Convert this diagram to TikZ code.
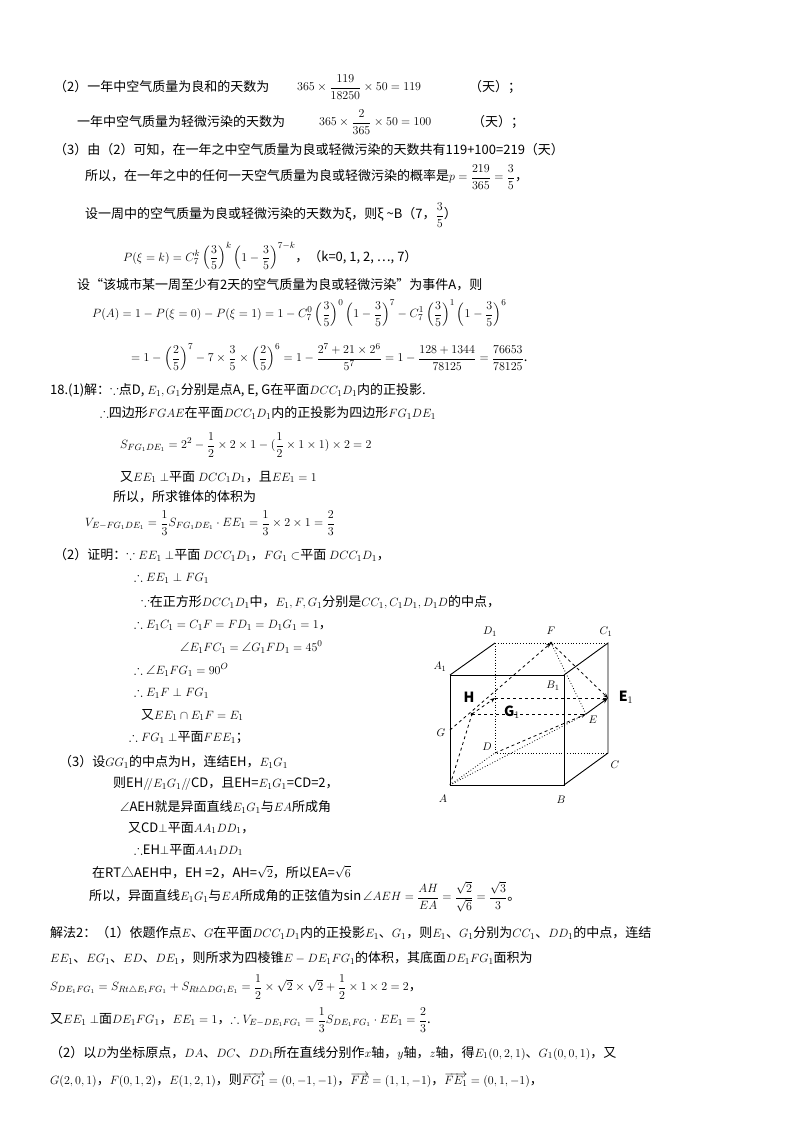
\documentclass[tikz,border=0pt]{standalone}
\usepackage{amssymb}
\usepackage{fontspec}
\setmainfont{Noto Sans CJK SC}
\usetikzlibrary{arrows.meta}
\everymath{\displaystyle}
\tikzset{t/.style={anchor=west,inner sep=0pt,font=\fontsize{13}{15}\selectfont},
 lab/.style={inner sep=0pt,font=\fontsize{11}{12}\selectfont},
 blab/.style={inner sep=0pt,font=\fontsize{14}{15}\selectfont\bfseries},
 edge/.style={line width=0.9pt},
 hid/.style={dotted,line width=0.8pt},
 dsh/.style={dashed,line width=0.8pt}}
\begin{document}
\begin{tikzpicture}[x=1pt,y=-1pt]
\useasboundingbox (0,0) rectangle (800,1132);
\fill[white] (0,0) rectangle (800,1132);
\node[t] (l1) at (54,87) {（2）一年中空气质量为良和的天数为};
\node[t] (l1m) at (297,87) {$365\times\frac{119}{18250}\times50=119$};
\node[t] (l1t) at (469,87) {（天）；};
\node[t] (l2) at (77,122) {一年中空气质量为轻微污染的天数为};
\node[t] (l2m) at (319,122) {$365\times\frac{2}{365}\times50=100$};
\node[t] (l2t) at (472,122) {（天）；};
\node[t] (l3) at (54,150) {（3）由（2）可知，在一年之中空气质量为良或轻微污染的天数共有119+100=219（天）};
\node[t] (l4) at (85,177) {所以，在一年之中的任何一天空气质量为良或轻微污染的概率是$p=\frac{219}{365}=\frac35$，};
\node[t] (l5) at (85,215) {设一周中的空气质量为良或轻微污染的天数为ξ，则ξ \textasciitilde B（7，$\frac35$）};
\node[t] (l6) at (123,256) {$P(\xi=k)=C_7^k\left(\frac35\right)^k\left(1-\frac35\right)^{7-k}$，（k=0, 1, 2, ⋯, 7）};
\node[t] (l7) at (77,285) {设“该城市某一周至少有2天的空气质量为良或轻微污染”为事件A，则};
\node[t] (l8) at (92,313) {$P(A)=1-P(\xi=0)-P(\xi=1)=1-C_7^0\left(\frac35\right)^0\left(1-\frac35\right)^7-C_7^1\left(\frac35\right)^1\left(1-\frac35\right)^6$};
\node[t] (l9) at (131,357) {$=1-\left(\frac25\right)^7-7\times\frac35\times\left(\frac25\right)^6=1-\frac{2^7+21\times2^6}{5^7}=1-\frac{128+1344}{78125}=\frac{76653}{78125}$.};
\node[t] (l10) at (50,390) {18.(1)解：$\because$点D, $E_1,G_1$分别是点A, E, G在平面$DCC_1D_1$内的正投影.};
\node[t] (l11) at (100,413) {$\therefore$四边形$FGAE$在平面$DCC_1D_1$内的正投影为四边形$FG_1DE_1$};
\node[t] (l12) at (120,445) {$S_{FG_1DE_1}=2^2-\frac12\times2\times1-(\frac12\times1\times1)\times2=2$};
\node[t] (l13) at (120,477) {又$EE_1\perp$平面 $DCC_1D_1$，且$EE_1=1$};
\node[t] (l14) at (113,497) {所以，所求锥体的体积为};
\node[t] (l15) at (85,523) {$V_{E-FG_1DE_1}=\frac13S_{FG_1DE_1}\cdot EE_1=\frac13\times2\times1=\frac23$};
\node[t] (l16) at (54,555) {（2）证明：$\because EE_1\perp$平面 $DCC_1D_1$，$FG_1\subset$平面 $DCC_1D_1$，};
\node[t] (l17) at (134,578) {$\therefore EE_1\perp FG_1$};
\node[t] (l18) at (141,602) {$\because$在正方形$DCC_1D_1$中，$E_1,F,G_1$分别是$CC_1,C_1D_1,D_1D$的中点，};
\node[t] (l19) at (134,625) {$\therefore E_1C_1=C_1F=FD_1=D_1G_1=1$，};
\node[t] (l20) at (180,647) {$\angle E_1FC_1=\angle G_1FD_1=45^0$};
\node[t] (l21) at (134,670) {$\therefore\angle E_1FG_1=90^O$};
\node[t] (l22) at (134,693) {$\therefore E_1F\perp FG_1$};
\node[t] (l23) at (141,715) {又$EE_1\cap E_1F=E_1$};
\node[t] (l24) at (129,738) {$\therefore FG_1\perp$平面$FEE_1$；};
\node[t] (l25) at (59,762) {（3）设$GG_1$的中点为H，连结EH，$E_1G_1$};
\node[t] (l26) at (113,784) {则EH$/\!/$$E_1G_1$$/\!/$CD，且EH=$E_1G_1$=CD=2，};
\node[t] (l27) at (120,807) {$\angle$AEH就是异面直线$E_1G_1$与$EA$所成角};
\node[t] (l28) at (128,828) {又CD$\perp$平面$AA_1DD_1$，};
\node[t] (l29) at (134,850) {$\therefore$EH$\perp$平面$AA_1DD_1$};
\node[t] (l30) at (92,872) {在RT△AEH中，EH =2，AH=$\sqrt2$，所以EA=$\sqrt6$};
\node[t] (l31) at (89,897) {所以，异面直线$E_1G_1$与$EA$所成角的正弦值为$\sin\angle AEH=\frac{AH}{EA}=\frac{\sqrt2}{\sqrt6}=\frac{\sqrt3}3$。};
\node[t] (l32) at (50,933) {解法2：（1）依题作点$E$、$G$在平面$DCC_1D_1$内的正投影$E_1$、$G_1$，则$E_1$、$G_1$分别为$CC_1$、$DD_1$的中点，连结};
\node[t] (l33) at (50,958) {$EE_1$、$EG_1$、$ED$、$DE_1$，则所求为四棱锥$E-DE_1FG_1$的体积，其底面$DE_1FG_1$面积为};
\node[t] (l34) at (50,987) {$S_{DE_1FG_1}=S_{Rt\triangle E_1FG_1}+S_{Rt\triangle DG_1E_1}=\frac12\times\sqrt2\times\sqrt2+\frac12\times1\times2=2$，};
\node[t] (l35) at (50,1020) {又$EE_1\perp$面$DE_1FG_1$，$EE_1=1$，$\therefore V_{E-DE_1FG_1}=\frac13S_{DE_1FG_1}\cdot EE_1=\frac23$.};
\node[t] (l36) at (50,1053) {（2）以$D$为坐标原点，$DA$、$DC$、$DD_1$所在直线分别作$x$轴，$y$轴，$z$轴，得$E_1(0,2,1)$、$G_1(0,0,1)$，又};
\node[t] (l37) at (50,1080) {$G(2,0,1)$，$F(0,1,2)$，$E(1,2,1)$，则$\overrightarrow{FG_1}=(0,-1,-1)$，$\overrightarrow{FE}=(1,1,-1)$，$\overrightarrow{FE_1}=(0,1,-1)$，};
% cube
\coordinate (A1) at (450,675); \coordinate (B1) at (564,675);
\coordinate (A) at (450,785); \coordinate (B) at (564,785);
\coordinate (D1) at (495,643); \coordinate (C1) at (608,643);
\coordinate (D) at (495,753); \coordinate (C) at (608,753);
\coordinate (F) at (551,643); \coordinate (G) at (450,730);
\coordinate (E) at (586,714); \coordinate (E1) at (608,698);
\coordinate (G1) at (495,698); \coordinate (H) at (472,714);
\draw[edge] (A) -- (B) -- (B1) -- (A1) -- cycle;
\draw[edge] (A1) -- (D1); \draw[edge] (B1) -- (C1) -- (C) -- (B);
\draw[hid] (D1) -- (C1); \draw[hid] (D1) -- (D) -- (C); \draw[hid] (A) -- (D);
\draw[hid] (A) -- (E); \draw[hid] (F) -- (E);
\draw[dsh,-{Stealth[length=5pt]}] (G) -- (F);
\draw[dsh,-{Stealth[length=5pt]}] (F) -- (E1);
\draw[dsh] (G1) -- (E1); \draw[dsh] (H) -- (E);
\draw[dsh] (A) -- (H);
\draw[dsh,-{Stealth[length=5pt]}] (D) -- (E);
\draw[edge,-{Stealth[length=6pt]}] (E) -- (E1);
\draw[dsh,-{Stealth[length=5pt]}] (H) -- (G1);
\fill (H) circle (1.5pt); \fill (F) circle (1.5pt);
\node[lab] (nD1) at (490,632) {$D_1$};
\node[lab] (nF) at (551,631) {$F$};
\node[lab] (nC1) at (606,632) {$C_1$};
\node[lab] (nA1) at (440,667) {$A_1$};
\node[lab] (nB1) at (553,686) {$B_1$};
\node[blab] (nH) at (469,697) {H};
\node[blab] (nG1) at (512,712) {G$_1$};
\node[blab] (nE1) at (626,697) {E$_1$};
\node[lab] (nE) at (593,720) {$E$};
\node[lab] (nG) at (441,733) {$G$};
\node[lab] (nD) at (487,747) {$D$};
\node[lab] (nC) at (615,765) {$C$};
\node[lab] (nA) at (443,799) {$A$};
\node[lab] (nB) at (561,800) {$B$};
\end{tikzpicture}
\end{document}
